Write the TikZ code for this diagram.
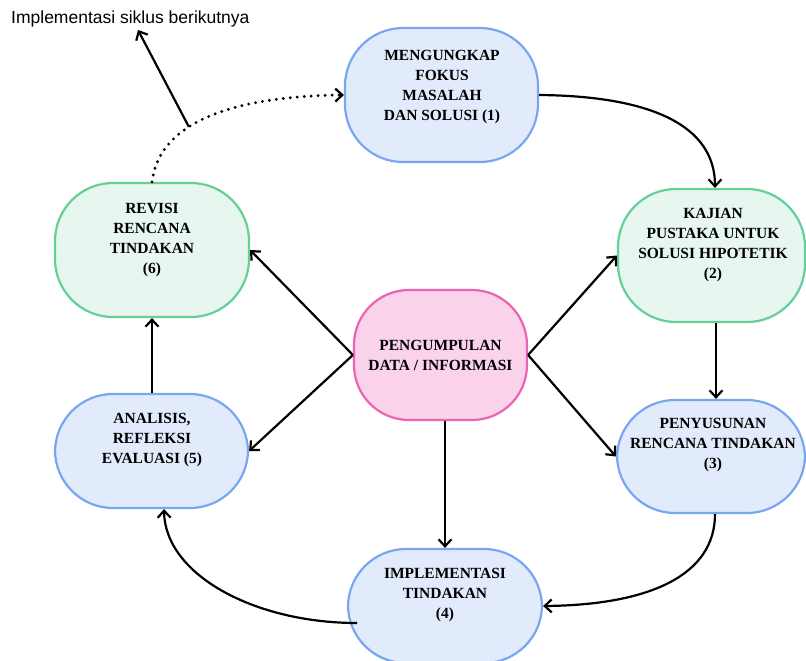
\documentclass[tikz,border=0pt]{standalone}
\usepackage{fontspec}
\setmainfont{Liberation Serif}
\newfontfamily\labelsans{Liberation Sans}
\usetikzlibrary{arrows.meta}
\definecolor{bfill}{HTML}{E2EBFC}
\definecolor{bdraw}{HTML}{78A6F0}
\definecolor{gfill}{HTML}{E7F7EF}
\definecolor{gdraw}{HTML}{66CF98}
\definecolor{pfill}{HTML}{FAD3EA}
\definecolor{pdraw}{HTML}{EE62B4}
\tikzset{
  box/.style={rectangle, rounded corners=58pt, line width=2.2pt, inner sep=0pt},
  bluebox/.style={box, fill=bfill, draw=bdraw},
  greenbox/.style={box, fill=gfill, draw=gdraw},
  pinkbox/.style={box, fill=pfill, draw=pdraw, rounded corners=55pt},
  boxtext/.style={align=center, font=\fontsize{15.5}{20}\selectfont\bfseries, inner sep=0pt},
  tip/.style={-{Straight Barb[length=7pt,width=13pt,line width=2.2pt]}},
  conn/.style={line width=2.2pt, tip},
}
\begin{document}
\begin{tikzpicture}[x=1pt,y=-1pt]
\useasboundingbox (0,0) rectangle (806,661);
\clip (0,0) rectangle (806,661);
% boxes
\node[bluebox, minimum width=193pt, minimum height=134pt] (n1) at (441.5,95) {};
\node[greenbox, minimum width=187pt, minimum height=133pt] (n2) at (711.5,255.5) {};
\node[bluebox, minimum width=188pt, minimum height=113pt] (n3) at (711,456.5) {};
\node[bluebox, minimum width=194pt, minimum height=114pt] (n4) at (445,606) {};
\node[bluebox, minimum width=193pt, minimum height=114pt] (n5) at (151.5,451) {};
\node[greenbox, minimum width=194pt, minimum height=134pt] (n6) at (152,250) {};
\node[pinkbox, minimum width=173pt, minimum height=130pt] (cn) at (440.5,355) {};
% texts
\node[boxtext] (t1) at (442,87) {MENGUNGKAP\\FOKUS\\MASALAH\\DAN SOLUSI (1)};
\node[boxtext] (t2) at (713,245) {KAJIAN\\PUSTAKA UNTUK\\SOLUSI HIPOTETIK\\(2)};
\node[boxtext] (t3) at (713,445) {PENYUSUNAN\\RENCANA TINDAKAN\\(3)};
\node[boxtext] (t4) at (445,595) {IMPLEMENTASI\\TINDAKAN\\(4)};
\node[boxtext] (t5) at (152,440) {ANALISIS,\\REFLEKSI\\EVALUASI (5)};
\node[boxtext] (t6) at (152,240) {REVISI\\RENCANA\\TINDAKAN\\(6)};
\node[boxtext] (tc) at (440.5,355) {PENGUMPULAN\\DATA / INFORMASI};
\node[anchor=base west, inner sep=0pt, font=\labelsans\fontsize{17.5}{20}\selectfont] (lbl) at (11,24) {Implementasi siklus berikutnya};
% cycle connectors
\draw[conn] (n1.east) .. controls (650,96) and (715,125) .. (n2.north -| 715,0);
\draw[conn] (n2.south -| 716,0) -- (n3.north -| 716,0);
\draw[conn] (n3.south -| 715,0) .. controls (715,575) and (650,605) .. (n4.east);
\coordinate (s4) at (357,623);
\draw[conn] (s4) .. controls (255,623) and (165,575) .. (n5.south -| 164,0);
\draw[conn] (n5.north -| 152,0) -- (n6.south -| 152,0);
\draw[line width=3.2pt, line cap=round, dash pattern=on 0pt off 7pt, tip]
  (n6.north) .. controls (160,115) and (250,96) .. coordinate[pos=0.36] (dp) (n1.west);
\draw[conn] (dp) -- (138,30) coordinate (lt);
% center connectors
\draw[conn] (cn.east) -- (n2.west);
\draw[conn] (cn.east) -- (n3.west);
\draw[conn] (cn.west) -- (n6.east);
\draw[conn] (cn.west) -- (n5.east);
\draw[conn] (n4.north |- cn.south) -- (n4.north);
\end{tikzpicture}
\end{document}
